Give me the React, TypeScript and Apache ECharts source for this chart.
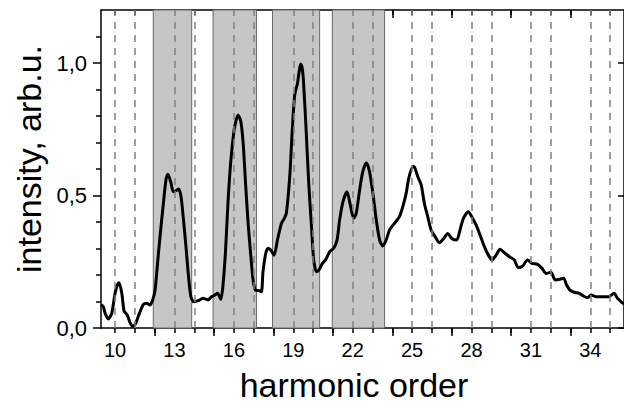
import React, { useEffect, useRef } from "react";
import * as echarts from "echarts";

const harmonic = [
  9.29, 9.35, 9.41, 9.5, 9.66, 9.83, 10.0, 10.1, 10.2, 10.34, 10.45, 10.55, 10.62, 10.76, 10.89, 11.0, 11.06,
  11.23, 11.43, 11.6, 11.76, 11.9, 12.02, 12.13, 12.27, 12.44, 12.57, 12.67, 12.81, 12.94, 13.07, 13.21,
  13.33, 13.44, 13.58, 13.71, 13.83, 13.98, 14.2, 14.45, 14.54, 14.7, 14.87, 15.05, 15.18, 15.34, 15.46,
  15.58, 15.71, 15.85, 16.01, 16.1, 16.21, 16.35, 16.47, 16.59, 16.72, 16.86, 16.97, 17.09, 17.26, 17.39,
  17.47, 17.61, 17.73, 17.86, 18.03, 18.2, 18.4, 18.52, 18.65, 18.82, 18.94, 19.07, 19.21, 19.3, 19.37,
  19.44, 19.51, 19.64, 19.78, 19.91, 20.03, 20.17, 20.3, 20.47, 20.63, 20.84, 21.04, 21.21, 21.34, 21.51,
  21.71, 21.88, 22.05, 22.18, 22.35, 22.51, 22.69, 22.85, 23.02, 23.19, 23.36, 23.52, 23.69, 23.86, 24.11,
  24.36, 24.53, 24.7, 24.83, 25.04, 25.12, 25.29, 25.46, 25.62, 25.79, 25.96, 26.16, 26.38, 26.6, 26.8,
  27.0, 27.25, 27.42, 27.59, 27.84, 28.01, 28.23, 28.43, 28.65, 28.85, 29.04, 29.24, 29.44, 29.66, 29.91,
  30.16, 30.36, 30.58, 30.83, 31.05, 31.34, 31.56, 31.76, 32.01, 32.23, 32.46, 32.65, 32.8, 32.97, 33.19,
  33.44, 33.64, 33.86, 34.03, 34.28, 34.61, 34.92, 35.2, 35.37, 35.62, 35.72,
];
const intensity = [
  0.088, 0.085, 0.08, 0.055, 0.034, 0.055, 0.131, 0.16, 0.171, 0.131, 0.065, 0.055, 0.049, 0.02, 0.006, 0.012, 0.02,
  0.055, 0.089, 0.093, 0.087, 0.106, 0.143, 0.231, 0.345, 0.47, 0.558, 0.58, 0.552, 0.514, 0.518, 0.525,
  0.496, 0.42, 0.307, 0.194, 0.118, 0.099, 0.103, 0.112, 0.11, 0.106, 0.118, 0.125, 0.131, 0.108, 0.169,
  0.294, 0.483, 0.634, 0.747, 0.78, 0.804, 0.779, 0.697, 0.546, 0.395, 0.269, 0.181, 0.143, 0.141, 0.137,
  0.212, 0.282, 0.301, 0.294, 0.275, 0.332, 0.395, 0.41, 0.433, 0.571, 0.735, 0.879, 0.923, 0.97, 0.996,
  0.985, 0.936, 0.76, 0.546, 0.395, 0.257, 0.212, 0.219, 0.244, 0.257, 0.288, 0.301, 0.332, 0.408, 0.477,
  0.514, 0.464, 0.414, 0.433, 0.521, 0.59, 0.624, 0.59, 0.508, 0.408, 0.332, 0.309, 0.332, 0.37, 0.395,
  0.42, 0.458, 0.508, 0.565, 0.609, 0.607, 0.571, 0.54, 0.47, 0.42, 0.37, 0.345, 0.322, 0.338, 0.357,
  0.338, 0.332, 0.37, 0.414, 0.439, 0.42, 0.389, 0.351, 0.307, 0.275, 0.257, 0.275, 0.297, 0.284, 0.269,
  0.257, 0.228, 0.234, 0.257, 0.244, 0.24, 0.225, 0.206, 0.21, 0.181, 0.184, 0.188, 0.162, 0.143, 0.135,
  0.131, 0.121, 0.114, 0.125, 0.118, 0.118, 0.118, 0.131, 0.112, 0.095, 0.09,
];

const bandStarts = [11.93, 14.95, 17.95, 20.97];
const bandEnds = [13.87, 17.14, 20.33, 23.61];
const dashedLines = [10, 11, 13, 14, 16, 17, 19, 20, 22, 23, 25, 26, 28, 29, 31, 32, 34, 35];
const xLabelValues = [10, 13, 16, 19, 22, 25, 28, 31, 34];
const xMajorTicks = [12, 15, 18, 21, 24, 27, 30, 33];
const xMinorTicks = [10, 11, 12, 13, 14, 15, 16, 17, 18, 19, 20, 21, 22, 23, 24, 25, 26, 27, 28, 29, 30, 31, 32, 33, 34, 35];
const yLabelValues = [0, 0.5, 1.0];
const yMinorTicks = [0.1, 0.2, 0.3, 0.4, 0.6, 0.7, 0.8, 0.9, 1.1];

const X_MIN = 9.29;
const X_MAX = 35.7;
const Y_MIN = 0;
const Y_MAX = 1.2;
const FONT = "'Liberation Sans', Arial, sans-serif";

export default function App() {
  const ref = useRef<HTMLDivElement>(null);
  useEffect(() => {
    if (!ref.current) return;
    const chart = echarts.init(ref.current, undefined, { renderer: "svg" });
    const black = { color: "#000", width: 1.5 };
    const xBase = { type: "value", min: X_MIN, max: X_MAX, splitLine: { show: false } };
    const yBase = { type: "value", min: Y_MIN, max: Y_MAX, splitLine: { show: false } };
    const curve = harmonic.map((h, i) => [h, intensity[i]]);
    chart.setOption({
      animation: false,
      grid: { left: 101, top: 10, width: 524, height: 318 },
      xAxis: [
        {
          ...xBase,
          position: "bottom",
          axisLine: { show: true, onZero: false, lineStyle: black },
          axisTick: { show: true, customValues: xMajorTicks, length: 8, inside: false, lineStyle: black },
          axisLabel: { show: true, customValues: xLabelValues, fontSize: 20, color: "#000", margin: 12, fontFamily: FONT },
        },
        {
          ...xBase,
          position: "bottom",
          axisLine: { show: false, onZero: false },
          axisTick: { show: true, customValues: xMinorTicks, length: 5, inside: false, lineStyle: black },
          axisLabel: { show: false },
        },
        {
          ...xBase,
          position: "top",
          axisLine: { show: true, onZero: false, lineStyle: black },
          axisTick: { show: true, customValues: xMinorTicks, length: 5, inside: true, lineStyle: black },
          axisLabel: { show: false },
        },
        {
          ...xBase,
          position: "top",
          axisLine: { show: false, onZero: false },
          axisTick: { show: true, customValues: xMajorTicks, length: 8, inside: true, lineStyle: black },
          axisLabel: { show: false },
        },
      ],
      yAxis: [
        {
          ...yBase,
          position: "left",
          axisLine: { show: true, onZero: false, lineStyle: black },
          axisTick: { show: true, customValues: yLabelValues, length: 8, inside: false, lineStyle: black },
          axisLabel: {
            show: true,
            customValues: yLabelValues,
            fontSize: 22,
            color: "#000",
            margin: 14,
            fontFamily: FONT,
            formatter: (v: number) => v.toFixed(1).replace(".", ","),
          },
        },
        {
          ...yBase,
          position: "left",
          axisLine: { show: false, onZero: false },
          axisTick: { show: true, customValues: yMinorTicks, length: 5, inside: false, lineStyle: black },
          axisLabel: { show: false },
        },
        {
          ...yBase,
          position: "right",
          axisLine: { show: true, onZero: false, lineStyle: black },
          axisTick: { show: true, customValues: yLabelValues, length: 6, inside: true, lineStyle: black },
          axisLabel: { show: false },
        },
      ],
      graphic: [
        {
          type: "text",
          x: 29,
          y: 159,
          rotation: Math.PI / 2,
          style: {
            text: "intensity, arb.u.",
            fontSize: 34,
            fontFamily: FONT,
            fill: "#000",
            textAlign: "center",
            textVerticalAlign: "middle",
          },
        },
        {
          type: "text",
          x: 354,
          y: 385,
          style: {
            text: "harmonic order",
            fontSize: 34,
            fontFamily: FONT,
            fill: "#000",
            textAlign: "center",
            textVerticalAlign: "middle",
          },
        },
      ],
      series: [
        {
          type: "line",
          data: [],
          z: 1,
          silent: true,
          markArea: {
            silent: true,
            itemStyle: { color: "#c6c6c6", borderColor: "#6a6a6a", borderWidth: 1 },
            data: bandStarts.map((s, i) => [{ xAxis: s }, { xAxis: bandEnds[i] }]),
          },
        },
        {
          type: "line",
          data: [],
          z: 2,
          silent: true,
          markLine: {
            silent: true,
            symbol: "none",
            label: { show: false },
            lineStyle: { color: "#808080", width: 1.5, type: [7, 6] },
            data: dashedLines.map((v) => ({ xAxis: v })),
          },
        },
        {
          type: "line",
          data: curve,
          z: 3,
          showSymbol: false,
          smooth: 0.25,
          clip: true,
          lineStyle: { color: "#000", width: 3 },
        },
      ],
    });
    return () => chart.dispose();
  }, []);
  return <div ref={ref} style={{ position: "absolute", left: 0, top: 0, width: 624, height: 405 }} />;
}
